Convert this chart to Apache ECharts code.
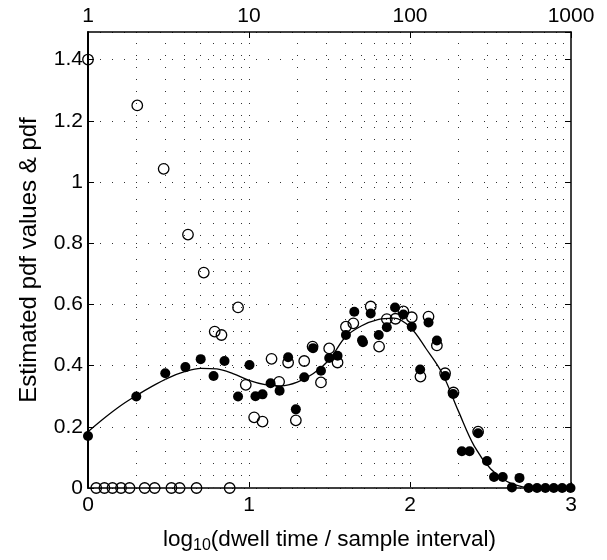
<!DOCTYPE html>
<html>
<head>
<meta charset="utf-8">
<script src="https://cdn.jsdelivr.net/npm/echarts@6/dist/echarts.min.js"></script>
<style>
html,body{margin:0;padding:0;background:#fff;}
#main{width:607px;height:560px;}
</style>
</head>
<body>
<div id="main"></div>
<script>
// Open circles: estimated pdf values (x = log10 dwell time)
var openX = [0, 0.051, 0.102, 0.152, 0.205, 0.258, 0.306, 0.352, 0.414, 0.470, 0.518, 0.569, 0.621, 0.674, 0.719, 0.787, 0.829, 0.880, 0.932, 0.980, 1.032, 1.084, 1.140, 1.187, 1.243, 1.291, 1.343, 1.395, 1.447, 1.498, 1.550, 1.602, 1.648, 1.756, 1.808, 1.856, 1.910, 1.959, 2.011, 2.065, 2.115, 2.167, 2.218, 2.270, 2.423];
var openY = [1.40, 0, 0, 0, 0, 0, 1.25, 0, 0, 1.043, 0, 0, 0.828, 0, 0.704, 0.511, 0.500, 0, 0.590, 0.337, 0.231, 0.217, 0.422, 0.347, 0.410, 0.221, 0.415, 0.462, 0.345, 0.456, 0.410, 0.527, 0.538, 0.593, 0.462, 0.552, 0.553, 0.577, 0.558, 0.364, 0.560, 0.466, 0.375, 0.312, 0.184];

// Filled circles: second set of estimated pdf values
var filledX = [0, 0.300, 0.480, 0.605, 0.700, 0.780, 0.848, 0.932, 1.003, 1.040, 1.084, 1.134, 1.190, 1.243, 1.291, 1.343, 1.398, 1.447, 1.498, 1.550, 1.602, 1.654, 1.702, 1.708, 1.756, 1.806, 1.856, 1.907, 1.959, 2.011, 2.063, 2.115, 2.167, 2.219, 2.268, 2.322, 2.370, 2.423, 2.478, 2.522, 2.576, 2.633, 2.680, 2.737, 2.789, 2.841, 2.893, 2.945, 2.997];
var filledY = [0.170, 0.299, 0.375, 0.395, 0.421, 0.366, 0.415, 0.299, 0.402, 0.300, 0.306, 0.342, 0.318, 0.427, 0.257, 0.362, 0.457, 0.383, 0.425, 0.432, 0.500, 0.576, 0.483, 0.476, 0.570, 0.500, 0.525, 0.590, 0.567, 0.527, 0.387, 0.541, 0.482, 0.366, 0.307, 0.120, 0.120, 0.179, 0.088, 0.036, 0.036, 0.002, 0.033, 0, 0, 0, 0, 0, 0];

// Fitted pdf curve
var curveX = [0, 0.1, 0.2, 0.3, 0.4, 0.5, 0.6, 0.7, 0.8, 0.9, 1.0, 1.1, 1.2, 1.3, 1.4, 1.5, 1.6, 1.7, 1.8, 1.9, 2.0, 2.1, 2.2, 2.3, 2.4, 2.5, 2.6, 2.7, 2.8, 2.9, 3.0];
var curveY = [0.184, 0.228, 0.268, 0.302, 0.333, 0.360, 0.380, 0.391, 0.389, 0.374, 0.352, 0.338, 0.334, 0.346, 0.374, 0.420, 0.494, 0.530, 0.550, 0.555, 0.526, 0.455, 0.375, 0.252, 0.136, 0.063, 0.022, 0.004, 0.0, 0.0, 0.0];

// Axis ticks / labels
var bottomTicks = [0, 1, 2, 3];
var topTickLabels = ['1', '10', '100', '1000'];
var yTicks = [0, 0.2, 0.4, 0.6, 0.8, 1, 1.2, 1.4];
// Vertical grid at log positions of dwell time
var gridDwell = [2,3,4,5,6,7,8,9,10,20,30,40,50,60,70,80,90,100,200,300,400,500,600,700,800,900];

function zip(a, b) { return a.map(function (v, i) { return [v, b[i]]; }); }

var FONT = '"Liberation Sans", Arial, Helvetica, sans-serif';
var chart = echarts.init(document.getElementById('main'), null, {renderer: 'canvas'});
var option = {
  animation: false,
  backgroundColor: '#fff',
  grid: {left: 88, right: 36, top: 32, bottom: 72, containLabel: false},
  xAxis: [{
    type: 'value', position: 'bottom', min: 0, max: 3, interval: 1,
    axisLine: {show: true, onZero: false, lineStyle: {color: '#000', width: 1.5}},
    axisTick: {show: true, inside: true, length: 6, lineStyle: {color: '#000', width: 1}},
    axisLabel: {color: '#000', fontFamily: FONT, fontSize: 21, margin: 7,
      formatter: function (v) { return bottomTicks.indexOf(v) >= 0 ? String(v) : ''; }},
    splitLine: {show: false},
    name: '{a|log}{s|10}{a|(dwell time / sample interval)}',
    nameLocation: 'middle', nameGap: 38,
    nameTextStyle: {color: '#000', fontFamily: FONT,
      rich: {a: {fontSize: 22.5, fontFamily: FONT, color: '#000', verticalAlign: 'top', lineHeight: 26},
             s: {fontSize: 16, fontFamily: FONT, color: '#000', verticalAlign: 'bottom', lineHeight: 26, padding: [17, 0, 0, 0]}}}
  }, {
    type: 'value', position: 'top', min: 0, max: 3, interval: 1,
    axisLine: {show: true, onZero: false, lineStyle: {color: '#000', width: 1.5}},
    axisTick: {show: true, inside: true, length: 6, lineStyle: {color: '#000', width: 1}},
    axisLabel: {color: '#000', fontFamily: FONT, fontSize: 21, margin: 5,
      formatter: function (v) { var i = bottomTicks.indexOf(v); return i >= 0 ? topTickLabels[i] : ''; }},
    splitLine: {show: false}
  }],
  yAxis: [{
    type: 'value', position: 'left', min: 0, max: 1.49, interval: 0.2,
    axisLine: {show: true, onZero: false, lineStyle: {color: '#000', width: 2}},
    axisTick: {show: true, inside: true, length: 6, lineStyle: {color: '#000', width: 1}},
    axisLabel: {color: '#000', fontFamily: FONT, fontSize: 21, margin: 5, showMaxLabel: false,
      formatter: function (v) {
        for (var i = 0; i < yTicks.length; i++) { if (Math.abs(yTicks[i] - v) < 1e-6) return String(yTicks[i]); }
        return '';
      }},
    splitLine: {show: true, lineStyle: {color: '#333', width: 1, type: [1, 11]}},
    name: 'Estimated pdf values & pdf', nameLocation: 'middle', nameGap: 47, nameRotate: 90,
    nameTextStyle: {color: '#000', fontFamily: FONT, fontSize: 24}
  }, {
    type: 'value', position: 'right', min: 0, max: 1.49, interval: 0.2,
    axisLine: {show: true, onZero: false, lineStyle: {color: '#000', width: 1.5}},
    axisTick: {show: true, inside: true, length: 6, lineStyle: {color: '#000', width: 1}},
    axisLabel: {show: false},
    splitLine: {show: false}
  }],
  series: [{
    type: 'line', name: 'grid', xAxisIndex: 0, yAxisIndex: 0, data: [],
    silent: true,
    markLine: {
      silent: true, symbol: 'none', label: {show: false}, animation: false,
      lineStyle: {color: '#333', width: 1, type: [1, 11]},
      emphasis: {disabled: true},
      data: gridDwell.map(function (d) { return {xAxis: Math.log10(d)}; })
    }
  }, {
    type: 'line', name: 'pdf', xAxisIndex: 0, yAxisIndex: 0,
    data: zip(curveX, curveY), smooth: 0.35, showSymbol: false, symbol: 'none',
    lineStyle: {color: '#000', width: 1.3}, z: 3
  }, {
    type: 'scatter', name: 'open', xAxisIndex: 0, yAxisIndex: 0,
    data: zip(openX, openY), symbol: 'circle', symbolSize: 10.5,
    itemStyle: {color: 'rgba(255,255,255,0)', borderColor: '#000', borderWidth: 1.3, opacity: 1}, z: 4
  }, {
    type: 'scatter', name: 'filled', xAxisIndex: 0, yAxisIndex: 0,
    data: zip(filledX, filledY), symbol: 'circle', symbolSize: 10,
    itemStyle: {color: '#000', borderColor: '#000', borderWidth: 0, opacity: 1}, z: 5
  }]
};
chart.setOption(option);
</script>
</body>
</html>
